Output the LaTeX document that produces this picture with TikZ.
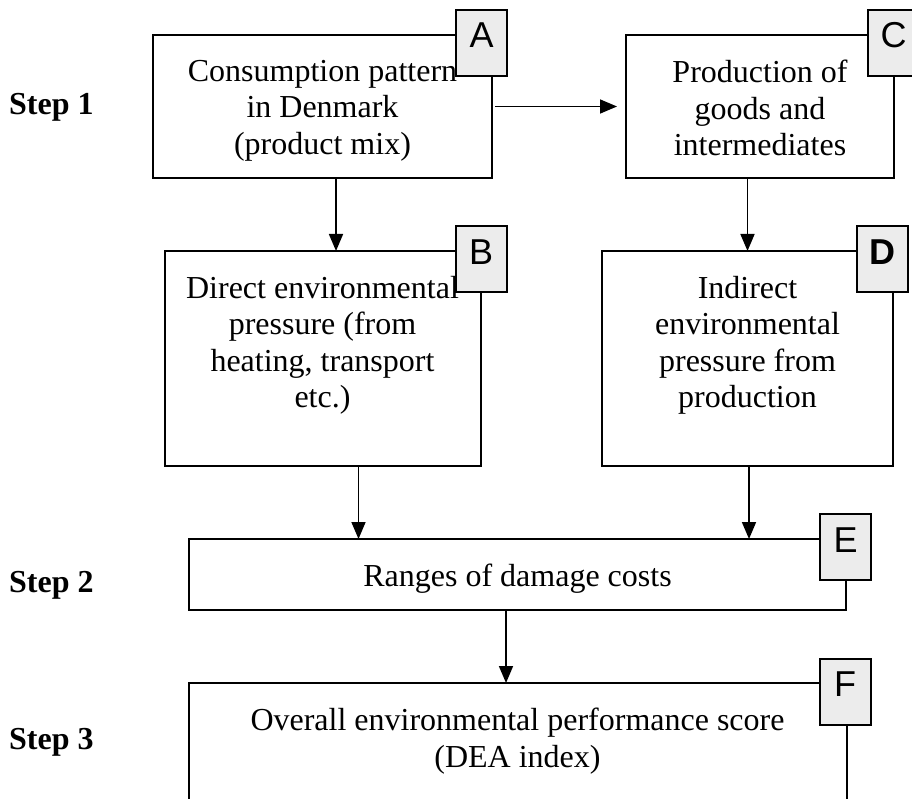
\documentclass[tikz,border=0pt]{standalone}
\usepackage{fontspec}
\setmainfont{Liberation Serif}
\newfontfamily\tagfont{Liberation Sans}
\usetikzlibrary{positioning, arrows.meta}
\tikzset{
x=1pt, y=-1pt, % pixel units, y runs downwards
>={Triangle[length=17pt, width=14pt]}, % filled arrow heads
box/.style={draw, line width=2pt, minimum height=143pt, inner sep=0pt, outer sep=0pt}, % the big boxes
txt/.style={align=center, inner sep=0pt, anchor=north, font=\fontsize{32}{36.5}\selectfont}, % text inside the boxes
tag/.style={draw, line width=2pt, fill=gray!15, minimum width=51pt, minimum height=66pt, inner sep=0pt, text height=38pt, text depth=28pt, font=\tagfont\fontsize{36}{40}\selectfont}, % letter boxes
steplabel/.style={anchor=base west, inner sep=0pt, font=\bfseries\fontsize{32}{36}\selectfont}, % step names on the left
link/.style={->, line width=1.7pt}, % the arrows
}
\begin{document}
\begin{tikzpicture}
\clip (0,0) rectangle (912,799);
% boxes
\node[box, minimum width=339pt] (A) at (322.5,106.5) {};
\node[box, minimum width=268pt, right=134pt of A] (C) {};
\node[box, minimum width=316pt, minimum height=215pt, below=73pt of A] (B) {};
\node[box, minimum width=291pt, minimum height=215pt, below=73pt of C, xshift=-12.5pt] (D) {};
\node[box, minimum width=657pt, minimum height=71pt] (E) at (517.5,574.5) {};
\node[box, minimum width=658pt, minimum height=160pt, below=73pt of E] (F) {};
% texts
\node[txt] (At) at ([yshift=-25pt]A.north) {Consumption pattern\\in Denmark\\(product mix)};
\node[txt] (Ct) at ([yshift=-25pt]C.north) {Production of\\goods and\\intermediates};
\node[txt] (Bt) at ([yshift=-25pt]B.north) {Direct environmental\\pressure (from\\heating, transport\\etc.)};
\node[txt] (Dt) at ([yshift=-25pt]D.north) {Indirect\\environmental\\pressure from\\production};
\node[txt] (Et) at ([yshift=-25pt]E.north) {Ranges of damage costs};
\node[txt] (Ft) at ([yshift=-25pt]F.north) {Overall environmental performance score\\(DEA index)};
% arrows
\draw[link, shorten <=3pt, shorten >=9pt] (A.east) -- (C.west);
\draw[link] ([xshift=13.5pt]A.south) -- ([xshift=13.5pt]A.south |- B.north);
\draw[link] (D.north |- C.south) -- (D.north);
\draw[link] ([xshift=36pt]B.south) -- ([xshift=36pt]B.south |- E.north);
\draw[link] ([xshift=1.5pt]D.south) -- ([xshift=1.5pt]D.south |- E.north);
\draw[link] ([xshift=-11.5pt]E.south) -- ([xshift=-11.5pt]E.south |- F.north);
% letter tags
\node[tag] (tA) at ([xshift=-10.5pt, yshift=-8pt]A.north east) {A};
\node[tag] (tB) at ([xshift=0.5pt, yshift=-8.5pt]B.north east) {B};
\node[tag] (tC) at ([xshift=-0.5pt, yshift=-8pt]C.north east) {C};
\node[tag] (tD) at ([xshift=-11pt, yshift=-8.5pt]D.north east) {\bfseries D};
\node[tag] (tE) at ([xshift=-0.5pt, yshift=-8pt]E.north east) {E};
\node[tag] (tF) at ([xshift=-1.5pt, yshift=-8.5pt]F.north east) {F};
% steps
\node[steplabel] (s1) at (9,115) {Step 1};
\node[steplabel] (s2) at (9,592) {Step 2};
\node[steplabel] (s3) at (9,749) {Step 3};
\end{tikzpicture}
\end{document}
